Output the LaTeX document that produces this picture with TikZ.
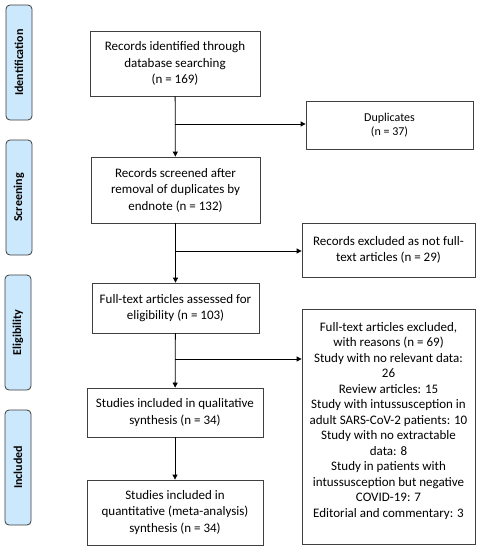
\documentclass[tikz,border=0pt]{standalone}
\usepackage{fontspec}
\setmainfont{Carlito}
\usetikzlibrary{arrows.meta,calc}
\definecolor{tabblue}{RGB}{204,232,252}
\definecolor{tabedge}{RGB}{60,60,60}
\tikzset{
  box/.style={draw=black!75,line width=0.8pt,align=center,inner sep=2pt,
    font=\fontsize{13}{16.5}\selectfont},
  tab/.style={draw=tabedge,fill=tabblue,line width=0.8pt,rounded corners=4pt,
    minimum width=26pt,minimum height=115pt,inner sep=0pt},
  tablabel/.style={rotate=90,font=\fontsize{12}{13}\selectfont\bfseries},
  arr/.style={draw=black,line width=0.8pt,-{Triangle[length=5pt,width=5pt]}},
}
\begin{document}
\begin{tikzpicture}[x=1pt,y=-1pt]
\useasboundingbox (0,0) rectangle (481,550);
% stage tabs
\node[tab] (tabid) at (19,62.5) {};
\node[tablabel] (tabidl) at (tabid.center) {Identification};
\node[tab] (tabsc) at (19,197.5) {};
\node[tablabel] (tabscl) at (tabsc.center) {Screening};
\node[tab] (tabel) at (18,332.5) {};
\node[tablabel] (tabell) at (tabel.center) {Eligibility};
\node[tab] (tabin) at (18,467.5) {};
\node[tablabel] (tabinl) at (tabin.center) {Included};
% main boxes
\node[box,minimum width=170pt,minimum height=65pt] (b1) at (175,63.5)
  {Records identified through\\database searching\\(n = 169)};
\node[box,minimum width=169pt,minimum height=66pt] (b2) at (175.5,190)
  {Records screened after\\removal of duplicates by\\endnote (n = 132)};
\node[box,minimum width=167pt,minimum height=50pt] (b3) at (175.5,308)
  {Full-text articles assessed for\\eligibility (n = 103)};
\node[box,minimum width=176pt,minimum height=49pt] (b4) at (175,412.5)
  {Studies included in qualitative\\synthesis (n = 34)};
\node[box,minimum width=176pt,minimum height=65pt] (b5) at (175,512.5)
  {Studies included in\\quantitative (meta-analysis)\\synthesis (n = 34)};
% side boxes
\node[box,minimum width=167pt,minimum height=48pt,
  font=\fontsize{12}{13.5}\selectfont] (dup) at (389.5,125)
  {Duplicates\\(n = 37)};
\node[box,minimum width=173pt,minimum height=54pt] (ex1) at (388.5,250)
  {Records excluded as not full-\\text articles (n = 29)};
\node[box,minimum width=173pt,minimum height=235pt,text depth=14pt,
  font=\fontsize{13}{15.5}\selectfont] (ex2) at (388.5,426.5)
  {Full-text articles excluded,\\with reasons (n = 69)\\Study with no relevant data:\\26\\Review articles: 15\\Study with intussusception in\\adult SARS-CoV-2 patients: 10\\Study with no extractable\\data: 8\\Study in patients with\\intussusception but negative\\COVID-19: 7\\Editorial and commentary: 3};
% connectors
\draw[arr] (b1) -- (b2);
\draw[arr] (b2) -- (b3);
\draw[arr] (b3) -- (b4);
\draw[arr] (b4) -- (b5);
\coordinate (j1) at (175,124);
\coordinate (j2) at (175,251);
\coordinate (j3) at (175,359);
\draw[arr] (j1) -- (j1 -| dup.west);
\draw[arr] (j2) -- (j2 -| ex1.west);
\draw[arr] (j3) -- (j3 -| ex2.west);
\end{tikzpicture}
\end{document}
